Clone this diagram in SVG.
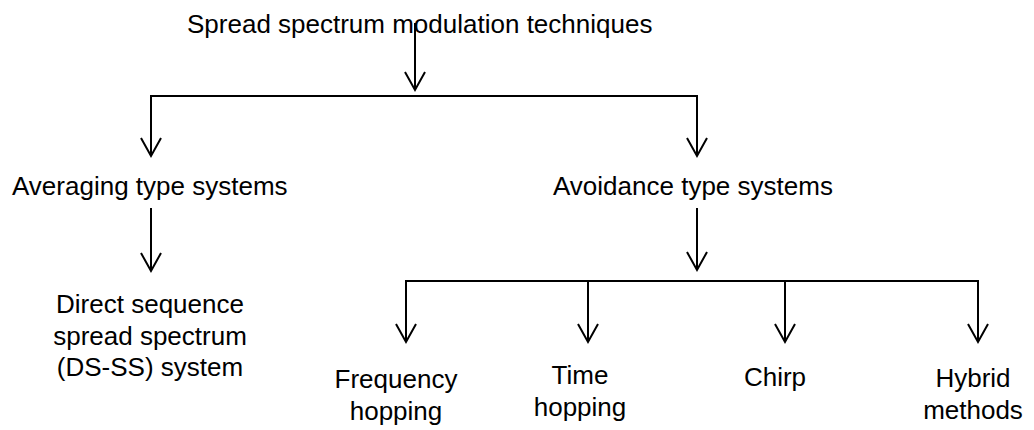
<svg xmlns="http://www.w3.org/2000/svg" width="1034" height="430" viewBox="0 0 1034 430">
  <style>
    .lbl { font-family: "Liberation Sans", Arial, sans-serif; font-size: 26px; fill: #000; }
    .mid { text-anchor: middle; }
    .conn { stroke: #000; stroke-width: 2; fill: none; }
    .arr { marker-end: url(#vhead); }
  </style>
  <defs>
    <marker id="vhead" markerUnits="userSpaceOnUse" markerWidth="20" markerHeight="22" refX="0" refY="0" orient="auto" overflow="visible">
      <path d="M-18,-10 L0,0 L-18,10" fill="none" stroke="#000" stroke-width="2"/>
    </marker>
  </defs>
  <rect width="1034" height="430" fill="#fff"/>

  <g id="connectors">
    <line class="conn arr" x1="415" y1="23" x2="415" y2="90"/>
    <line class="conn" x1="150" y1="96" x2="698" y2="96"/>
    <line class="conn arr" x1="151" y1="95" x2="151" y2="156"/>
    <line class="conn arr" x1="697" y1="95" x2="697" y2="156"/>
    <line class="conn arr" x1="151" y1="208" x2="151" y2="271"/>
    <line class="conn arr" x1="697" y1="208" x2="697" y2="270"/>
    <line class="conn" x1="405" y1="281" x2="979" y2="281"/>
    <line class="conn arr" x1="406" y1="280" x2="406" y2="342"/>
    <line class="conn arr" x1="588" y1="280" x2="588" y2="342"/>
    <line class="conn arr" x1="785" y1="280" x2="785" y2="342"/>
    <line class="conn arr" x1="978" y1="280" x2="978" y2="342"/>
  </g>

  <g id="node-root">
    <text class="lbl" x="187" y="33">Spread spectrum modulation techniques</text>
  </g>
  <g id="node-averaging">
    <text class="lbl" x="12" y="195">Averaging type systems</text>
  </g>
  <g id="node-avoidance">
    <text class="lbl" x="553" y="195">Avoidance type systems</text>
  </g>
  <g id="node-dsss">
    <text class="lbl mid" x="150" y="313">Direct sequence</text>
    <text class="lbl mid" x="150" y="345">spread spectrum</text>
    <text class="lbl mid" x="150" y="376">(DS-SS) system</text>
  </g>
  <g id="node-frequency">
    <text class="lbl mid" x="396" y="388">Frequency</text>
    <text class="lbl mid" x="396" y="420">hopping</text>
  </g>
  <g id="node-time">
    <text class="lbl mid" x="580" y="384">Time</text>
    <text class="lbl mid" x="580" y="416">hopping</text>
  </g>
  <g id="node-chirp">
    <text class="lbl mid" x="775" y="386">Chirp</text>
  </g>
  <g id="node-hybrid">
    <text class="lbl mid" x="973" y="387">Hybrid</text>
    <text class="lbl mid" x="973" y="419">methods</text>
  </g>
</svg>
